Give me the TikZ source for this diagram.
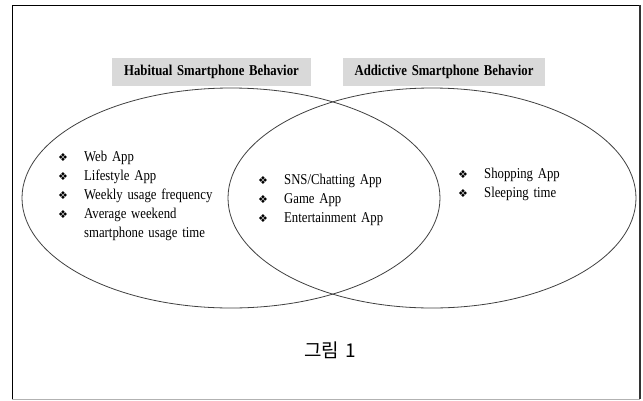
\documentclass[tikz,border=0pt]{standalone}
\usepackage{fontspec}
\setmainfont[FakeStretch=0.85,WordSpace=1.5]{Liberation Serif}
\newfontfamily\symfont{DejaVu Sans}
\newfontfamily\cjkfont{Noto Sans CJK KR}
\usetikzlibrary{shapes.geometric}
\newcommand{\bulsym}{{\symfont\fontsize{11}{11}\selectfont ❖}}
\begin{document}
\begin{tikzpicture}[x=1pt,y=-1pt,
  venn/.style={draw=black!75, line width=0.8pt, ellipse, inner sep=0pt},
  titlebox/.style={fill=black!15, draw=none, minimum width=199pt, minimum height=28pt,
    font=\bfseries\fontsize{15}{17}\selectfont, inner sep=0pt},
  bul/.style={anchor=base west, inner sep=0pt},
  itemtext/.style={anchor=base west, inner sep=0pt, font=\fontsize{15}{17}\selectfont}]
\useasboundingbox (0,0) rectangle (643,400);
% frame
\draw[black, line width=1pt] (12,399) -- (12,5) -- (640,5);
\draw[black!80, line width=1.6pt] (640,5) -- (640,399);
\draw[black!30, line width=1pt] (12,399) -- (640,399);
% ellipses
\node[venn, minimum width=418pt, minimum height=220pt] (L) at (231,198) {};
\node[venn, minimum width=408pt, minimum height=220pt] (R) at (432,198) {};
% titles
\node[titlebox] (tl) at (211.5,72) {Habitual Smartphone Behavior};
\node[titlebox, minimum width=202pt] (tr) at (444,72) {Addictive Smartphone Behavior};
% left list
\node[bul] (lb1) at (58,161.5) {\bulsym};
\node[itemtext] (l1) at (84,161.5) {Web App};
\node[bul] (lb2) at (58,180.5) {\bulsym};
\node[itemtext] (l2) at (84,180.5) {Lifestyle App};
\node[bul] (lb3) at (58,199.5) {\bulsym};
\node[itemtext] (l3) at (84,199.5) {Weekly usage frequency};
\node[bul] (lb4) at (58,218.5) {\bulsym};
\node[itemtext] (l4) at (84,218.5) {Average weekend};
\node[itemtext] (l5) at (84,237.5) {smartphone usage time};
% center list
\node[bul] (cb1) at (258,184.5) {\bulsym};
\node[itemtext] (c1) at (284,184.5) {SNS/Chatting App};
\node[bul] (cb2) at (258,203) {\bulsym};
\node[itemtext] (c2) at (284,203) {Game App};
\node[bul] (cb3) at (258,222) {\bulsym};
\node[itemtext] (c3) at (284,222) {Entertainment App};
% right list
\node[bul] (rb1) at (458,178.5) {\bulsym};
\node[itemtext] (r1) at (484,178.5) {Shopping App};
\node[bul] (rb2) at (458,197.5) {\bulsym};
\node[itemtext] (r2) at (484,197.5) {Sleeping time};
% caption
\node[font=\cjkfont\fontsize{19}{22}\selectfont, inner sep=0pt] (cap) at (330,350) {그림\hspace{6pt}1};
\end{tikzpicture}
\end{document}
